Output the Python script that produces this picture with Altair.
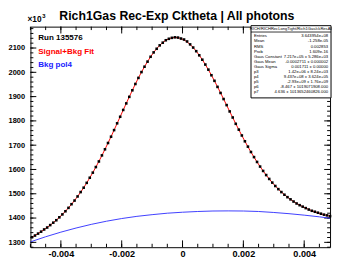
import altair as alt
import pandas as pd

# ---- data (values in units of 10^3) ----
bin_lo = -0.005
bin_w = 0.0001
counts = [1321, 1328, 1336, 1344, 1353, 1361, 1371, 1381, 1391, 1403,
          1415, 1428, 1442, 1457, 1472, 1489, 1507, 1525, 1545, 1566,
          1587, 1610, 1633, 1658, 1683, 1709, 1735, 1762, 1790, 1817,
          1845, 1872, 1899, 1926, 1952, 1977, 2001, 2023, 2044, 2064,
          2082, 2097, 2111, 2122, 2132, 2138, 2142, 2144, 2143, 2139,
          2135, 2127, 2115, 2102, 2087, 2070, 2052, 2032, 2011, 1988,
          1965, 1940, 1915, 1890, 1865, 1839, 1814, 1788, 1764, 1740,
          1716, 1694, 1672, 1651, 1631, 1612, 1594, 1577, 1561, 1546,
          1532, 1519, 1507, 1496, 1486, 1477, 1468, 1460, 1453, 1447,
          1441, 1435, 1430, 1426, 1422, 1418, 1414, 1411, 1408]
fit = [1321.3, 1328.4, 1336.0, 1344.0, 1352.5, 1361.5, 1370.8, 1380.8, 1391.5, 1403.1,
       1415.2, 1428.1, 1441.9, 1456.6, 1472.3, 1489.0, 1506.5, 1525.1, 1544.7, 1565.5,
       1587.1, 1609.7, 1633.2, 1657.6, 1683.0, 1708.9, 1735.3, 1762.2, 1789.6, 1817.3,
       1844.8, 1872.2, 1899.2, 1925.9, 1951.9, 1977.0, 2000.7, 2023.3, 2044.4, 2064.0,
       2081.7, 2097.4, 2111.0, 2122.4, 2131.6, 2138.2, 2142.1, 2143.6, 2142.7, 2139.3,
       2133.4, 2125.0, 2114.4, 2101.8, 2087.1, 2070.4, 2051.9, 2031.9, 2010.6, 1988.1,
       1964.7, 1940.2, 1915.4, 1890.0, 1864.6, 1839.0, 1813.6, 1788.4, 1763.8, 1739.8,
       1716.3, 1693.5, 1671.6, 1650.8, 1630.9, 1611.9, 1593.8, 1576.8, 1560.8, 1546.0,
       1532.2, 1519.2, 1507.3, 1496.3, 1486.3, 1477.0, 1468.4, 1460.5, 1453.4, 1447.0,
       1441.0, 1435.5, 1430.5, 1425.9, 1421.7, 1417.8, 1414.1, 1410.7, 1407.6]
bkg_x = [-0.005, -0.0045, -0.004, -0.0035, -0.003, -0.0025, -0.002, -0.0015, -0.001, -0.0005,
         0.0, 0.0005, 0.001, 0.0015, 0.002, 0.0025, 0.003, 0.0035, 0.004, 0.0045, 0.005]
bkg_y = [1302, 1323, 1342, 1359, 1374, 1387, 1398, 1407, 1414, 1420,
         1424, 1427, 1429, 1429.5, 1429, 1427, 1423, 1418, 1412, 1405, 1397]

x_major = [-0.004, -0.002, 0.0, 0.002, 0.004]
x_minor = [round(-0.005 + 0.0005 * k, 4) for k in range(20)]
y_major = [1300, 1400, 1500, 1600, 1700, 1800, 1900, 2000, 2100]
y_minor = [1280 + 20 * k for k in range(46)]

title_text = "Rich1Gas Rec-Exp Cktheta | All photons"
stats_title = "RICH/RICHRecLongTight/Rich1Gas/ckResAll"
stats_labels = ["Entries", "Mean", "RMS", "Prob", "Gaus Constant", "Gaus Mean",
                "Gaus Sigma", "p3", "p4", "p5", "p6", "p7"]
stats_values = ["3.643954e+08", "-1.258e-05", "0.002853", "1.609e-16",
                "7.217e+05 \u00b1 5.286e+03", "-0.0002711 \u00b1 0.000002",
                "0.001711 \u00b1 0.00000", "1.42e+06 \u00b1 8.24e+03",
                "9.437e+08 \u00b1 3.624e+05", "-2.93e+09 \u00b1 1.76e+09",
                "-8.467 \u00b1 1019071908.000", "4.636 \u00b1 1013652460826.000"]

W, H = 307, 226
XD = [-0.005, 0.00485]
YD = [1280, 2188]
FONT = "Liberation Sans"

xs = alt.Scale(domain=XD, nice=False, zero=False)
ys = alt.Scale(domain=YD, nice=False, zero=False)

df = pd.DataFrame({"x": [bin_lo + bin_w * (i + 0.5) for i in range(len(counts))],
                   "n": counts, "f": fit})
dfb = pd.DataFrame({"x": bkg_x, "b": bkg_y})

x_axis = alt.Axis(values=x_major, ticks=False, domain=False, grid=False, title="",
                  labelFont=FONT, labelFontSize=9.3, labelFontWeight="bold",
                  labelColor="black", labelPadding=3,
                  labelExpr="datum.value == 0 ? '0' : (datum.value < 0 ? '-' + format(-datum.value, '.3f') : format(datum.value, '.3f'))")
y_axis = alt.Axis(values=y_major, ticks=False, domain=False, grid=False, title="",
                  labelFont=FONT, labelFontSize=7.6, labelFontWeight="bold",
                  labelColor="black", labelPadding=6, format="d")

def X(field):
    return alt.X(field, scale=xs, axis=x_axis)

def Y(field):
    return alt.Y(field, scale=ys, axis=y_axis)

base = alt.Chart(df)
points = base.mark_square(size=7, color="black", opacity=1).encode(x=X("x:Q"), y=Y("n:Q"))
fitline = base.mark_line(color="#ff0000", strokeWidth=1, clip=True).encode(x=X("x:Q"), y=Y("f:Q"))
bkgline = alt.Chart(dfb).mark_line(color="#3c3cff", strokeWidth=1, clip=True).encode(
    x=X("x:Q"), y=Y("b:Q"))

def xticks(vals, ln):
    d = alt.Chart(pd.DataFrame({"t": vals}))
    bot = d.mark_rule(color="black", strokeWidth=1).encode(
        x=X("t:Q"), y=alt.value(H), y2=alt.value(H - ln))
    top = d.mark_rule(color="black", strokeWidth=1).encode(
        x=X("t:Q"), y=alt.value(0), y2=alt.value(ln))
    return [bot, top]

def yticks(vals, ln):
    d = alt.Chart(pd.DataFrame({"t": vals}))
    left = d.mark_rule(color="black", strokeWidth=1).encode(
        y=Y("t:Q"), x=alt.value(0), x2=alt.value(ln))
    right = d.mark_rule(color="black", strokeWidth=1).encode(
        y=Y("t:Q"), x=alt.value(W), x2=alt.value(W - ln))
    return [left, right]

one = alt.Chart(pd.DataFrame({"k": [0]}))

def label(text, x, y, size, color="black", weight="bold", align="left", baseline="middle", font=FONT, lh=None):
    kw = dict(text=text, fontSize=size, color=color, fontWeight=weight, align=align,
              baseline=baseline, font=font)
    if lh is not None:
        kw["lineBreak"] = "\n"
        kw["lineHeight"] = lh
    return one.mark_text(**kw).encode(x=alt.value(x), y=alt.value(y))

# stats box
BX0, BX1, BY0, BY1 = 226, 308, -1, 73
box = one.mark_rect(fill="white", stroke="black", strokeWidth=1).encode(
    x=alt.value(BX0), x2=alt.value(BX1), y=alt.value(BY0), y2=alt.value(BY1))
sep = one.mark_rule(color="black", strokeWidth=0.8).encode(
    x=alt.value(BX0), x2=alt.value(BX1), y=alt.value(5.5))
stats = [
    box, sep,
    label(stats_title, (BX0 + BX1) / 2, 2.6, 4.2, weight="normal", align="center"),
    label("\n".join(stats_labels), BX0 + 3, 10, 4.3, weight="normal", baseline="middle", lh=5.2),
    label("\n".join(stats_values), BX1 - 3, 10, 4.3, weight="normal", align="right", baseline="middle", lh=5.2),
]

texts = [
    label(title_text, 150, -11, 12.6, align="center"),
    label("\u00d710", -3, -5, 8.5, baseline="alphabetic"),
    label("3", 12, -9, 6, baseline="alphabetic"),
    label("Run 135576", 8, 12, 8.2),
    label("Signal+Bkg Fit", 8, 26, 8.2, color="#ff0000"),
    label("Bkg pol4", 8, 39.5, 8.2, color="#2020ff"),
]

layers = (xticks(x_minor, 3.5) + xticks(x_major, 7) + yticks(y_minor, 3) + yticks(y_major, 6)
          + [bkgline, fitline, points] + stats + texts)

chart = alt.layer(*layers).properties(
    width=W, height=H,
    autosize=alt.AutoSizeParams(type="none"),
    padding={"left": 23, "top": 16, "right": 2, "bottom": 10},
).configure_view(stroke="black", strokeWidth=1)

chart.save("out.html", embed_options={"renderer": "svg", "actions": False})
